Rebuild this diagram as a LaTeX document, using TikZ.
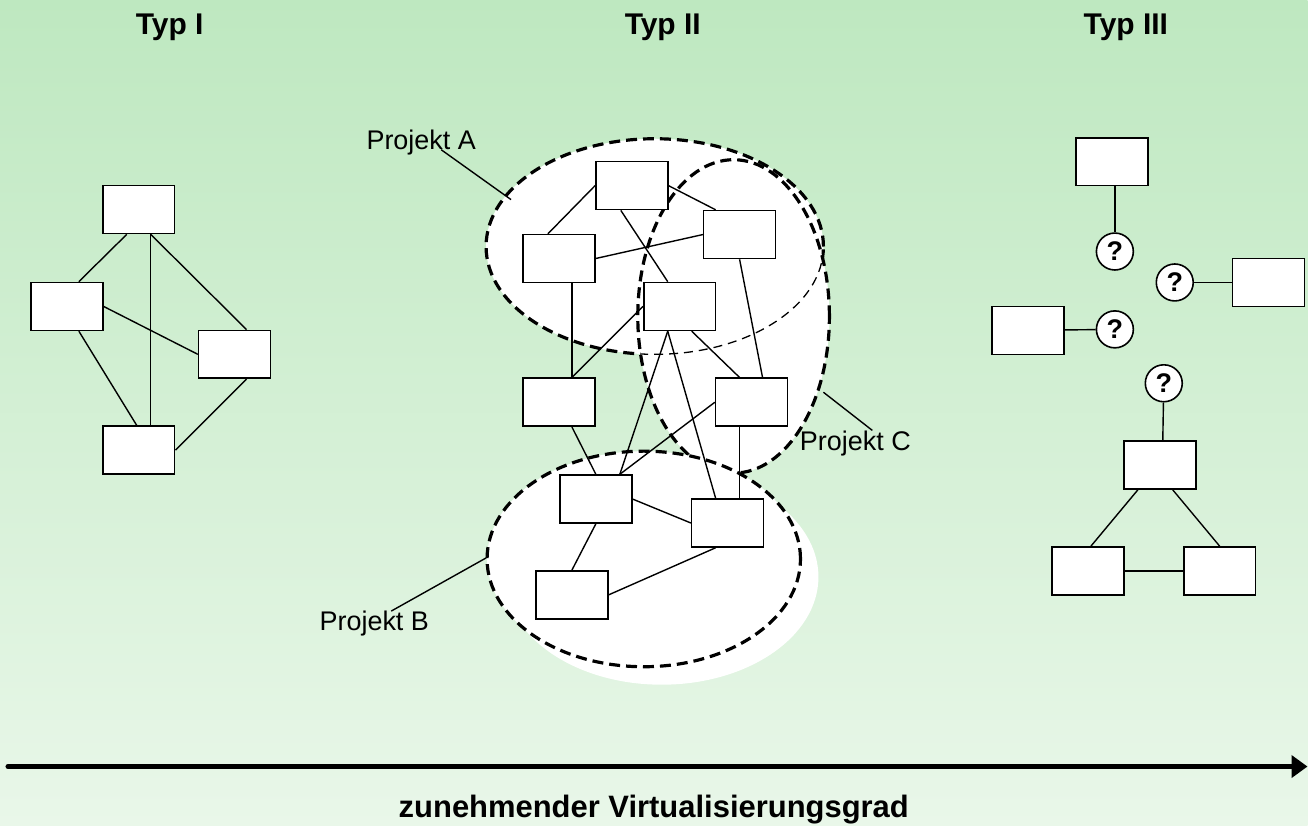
\documentclass[tikz,border=0pt]{standalone}
\usepackage{fontspec}
\setmainfont{Liberation Sans}
\usetikzlibrary{arrows.meta,positioning}
\definecolor{bgTopColor}{RGB}{190,232,192}
\definecolor{bgBottomColor}{RGB}{233,247,233}
\tikzset{box/.style={draw, fill=white, line width=1.6pt, minimum width=72pt, minimum height=48pt, inner sep=0pt}}
\tikzset{query/.style={circle, draw, fill=white, line width=1.6pt, minimum size=37pt, inner sep=0pt, font=\fontsize{27}{27}\selectfont\bfseries}}
\tikzset{typlabel/.style={anchor=base, inner sep=0pt, font=\fontsize{30}{36}\selectfont\bfseries}}
\tikzset{projlabel/.style={anchor=base, inner sep=0pt, font=\fontsize{27}{32}\selectfont}}
\tikzset{projectline/.style={dash pattern=on 11pt off 6pt, line width=3.2pt}}
\tikzset{hiddenline/.style={dash pattern=on 9pt off 6pt, line width=1.3pt}}
\tikzset{netlink/.style={line width=1.4pt}}

\begin{document}
\begin{tikzpicture}[x=1pt, y=-1pt]
	\pgfdeclarelayer{background}
	\pgfsetlayers{background,main}
	
	% Nodes
	\node (typ1) [typlabel] at (170,35) {Typ I};
	\node (typ2) [typlabel] at (664,35) {Typ II};
	\node (typ3) [typlabel] at (1128,35) {Typ III};
	
	% Typ I
	\node (t1a) [box] at (139,210) {};
	\node (t1b) [box] at (67,307) {};
	\node (t1c) [box] at (235,355) {};
	\node (t1d) [box] at (139,451) {};
	
	% Typ II
	\node (m1) [box] at (633,186) {};
	\node (m2) [box] at (560,259) {};
	\node (m3) [box] at (741,235) {};
	\node (m4) [box] at (681,307) {};
	\node (m5) [box] at (560,403) {};
	\node (m6) [box] at (753,403) {};
	\node (m7) [box] at (597,500) {};
	\node (m8) [box] at (729,524) {};
	\node (m9) [box] at (573,596) {};
	
	\node (projA) [projlabel] at (422,150) {Projekt A};
	\node (projB) [projlabel] at (375,632) {Projekt B};
	\node (projC) [projlabel] at (857,451) {Projekt C};
	\coordinate (endA) at (512,200);
	\coordinate (endB) at (487,559);
	\coordinate (endC) at (825,393);
	
	% Typ III
	\node (r1) [box] at (1114,162) {};
	\node (r2) [box] at (1271,283) {};
	\node (r3) [box] at (1030,331) {};
	\node (r4) [box] at (1162,466) {};
	\node (r5) [box] at (1090,572) {};
	\node (r6) [box] at (1222,572) {};
	\node (q1) [query] at (1117,252) {?};
	\node (q2) [query] at (1177,283) {?};
	\node (q3) [query] at (1117,330) {?};
	\node (q4) [query] at (1166,384) {?};
	
	% Axis
	\coordinate (axisstart) at (8,768);
	\coordinate (axisend) at (1310,768);
	\node (grad) [typlabel, font=\fontsize{31}{36}\selectfont\bfseries] at (655,819) {zunehmender Virtualisierungsgrad};
	
	\begin{pgfonlayer}{background}
	\shade[top color=bgTopColor, bottom color=bgBottomColor] (0,0) rectangle (1310,827);
	% project areas
	\fill[white] (663,578) ellipse [x radius=157pt, y radius=108pt];
	\fill[white] (656,247) ellipse [x radius=169pt, y radius=108pt];
	\draw[projectline] (656,247) ellipse [x radius=169pt, y radius=108pt];
	\fill[white] (735,317) ellipse [x radius=96pt, y radius=157pt];
	\begin{scope}
		\clip (735,317) ellipse [x radius=96pt, y radius=157pt];
		\draw[hiddenline] (656,247) ellipse [x radius=169pt, y radius=108pt];
	\end{scope}
	\draw[projectline] (735,317) ellipse [x radius=96pt, y radius=157pt];
	\fill[white] (645,560) ellipse [x radius=157pt, y radius=108pt];
	\draw[projectline] (645,560) ellipse [x radius=157pt, y radius=108pt];
	\end{pgfonlayer}
	
	% Connectors
	\begin{scope}[netlink]
	\draw ([xshift=-12pt]t1a.south) -- ([xshift=12pt]t1b.north);
	\draw ([xshift=12pt]t1a.south) -- ([xshift=12pt]t1d.north);
	\draw ([xshift=12pt]t1a.south) -- ([xshift=12pt]t1c.north);
	\draw (t1b.east) -- (t1c.west);
	\draw ([xshift=12pt]t1b.south) -- ([xshift=-2pt]t1d.north);
	\draw ([xshift=12pt]t1c.south) -- (t1d.east);
	
	\draw (m1.west) -- ([xshift=-11pt]m2.north);
	\draw (m1.east) -- ([xshift=-24pt]m3.north);
	\draw ([xshift=-11pt]m1.south) -- ([xshift=-12pt]m4.north);
	\draw (m2.east) -- (m3.west);
	\draw ([xshift=13pt]m2.south) -- ([xshift=13pt]m5.north);
	\draw (m4.west) -- ([xshift=13pt]m5.north);
	\draw (m3.south) -- ([xshift=11pt]m6.north);
	\draw ([xshift=-12pt]m4.south) -- ([xshift=24pt]m7.north);
	\draw ([xshift=-12pt]m4.south) -- ([xshift=-12pt]m8.north);
	\draw ([xshift=12pt]m4.south) -- ([xshift=-12pt]m6.north);
	\draw (m6.west) -- ([xshift=24pt]m7.north);
	\draw ([xshift=13pt]m5.south) -- (m7.north);
	\draw ([xshift=-12pt]m6.south) -- ([xshift=12pt]m8.north);
	\draw (m7.east) -- (m8.west);
	\draw (m7.south) -- (m9.north);
	\draw ([xshift=-12pt]m8.south) -- (m9.east);
	
	\draw ([xshift=20pt]projA.base) -- (endA);
	\draw ([xshift=17pt]projB.north) -- (endB);
	\draw ([xshift=17pt]projC.north) -- (endC);
	
	\draw ([xshift=3pt]r1.south) -- (q1);
	\draw (q2) -- (r2);
	\draw (r3) -- (q3);
	\draw (q4) -- ([xshift=3pt]r4.north);
	\draw ([xshift=-22pt]r4.south) -- ([xshift=3pt]r5.north);
	\draw ([xshift=13pt]r4.south) -- (r6.north);
	\draw (r5) -- (r6);
	\end{scope}
	
	\draw[line width=5pt, line cap=round, -{Triangle[length=16pt, width=22pt]}] (axisstart) -- (axisend);

\end{tikzpicture}
\end{document}
